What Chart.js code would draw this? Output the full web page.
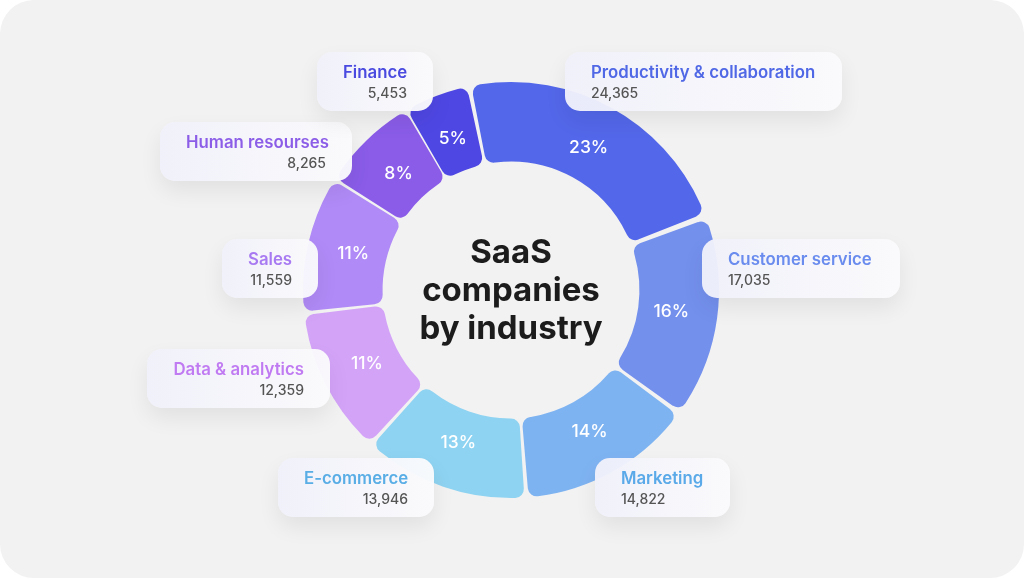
<!DOCTYPE html>
<html>
<head>
<meta charset="utf-8">
<script src="https://cdn.jsdelivr.net/npm/chart.js@4.4.1/dist/chart.umd.min.js"></script>
<style>
    html, body{margin:0;padding:0;background:#ffffff;}
    body{width:1024px;height:578px;overflow:hidden;font-family:Inter, "Noto Sans", sans-serif;}
    #tarjeta{position:absolute;left:0;top:0;width:1024px;height:578px;background:#f2f2f2;border-radius:34px;}
    #contenedor{position:absolute;left:0;top:0;width:1024px;height:578px;}
    #titulo{position:absolute;left:381px;top:232px;width:260px;text-align:center;font-weight:700;font-size:33px;line-height:38px;color:#1c1c1c;}
    .caja{position:absolute;height:59px;box-sizing:border-box;padding:0 26px;border-radius:15px;
        background:linear-gradient(90deg, rgba(240,240,250,0.96), rgba(250,250,252,0.96));
        box-shadow:0 10px 22px rgba(0,0,0,0.07);}
    .caja .nombre{font-size:16.8px;font-weight:600;margin-top:10px;line-height:21px;white-space:nowrap;}
    .caja .valor{font-size:14px;font-weight:500;color:#555555;margin-top:1px;line-height:18px;}
    .der{text-align:right;}
</style>
</head>
<body>
<div id="tarjeta"></div>
<div id="contenedor"><canvas id="g_saas"></canvas></div>
<div id="titulo">SaaS<br>companies<br>by industry</div>
<div id="etiquetas"></div>
<script>
// datos
const industrias = ["Productivity & collaboration","Customer service","Marketing","E-commerce","Data & analytics","Sales","Human resourses","Finance"];
const empresas = [24365,17035,14822,13946,12359,11559,8265,5453];
const colores = ["#5367ea","#7390ed","#7eb3f1","#8ed3f1","#d3a3f8","#b08af6","#8a5ce8","#4f47e3"];
const colores_texto = ["#5068e6","#6a8cee","#5aa9e8","#5aaee6","#c07af2","#a87af2","#8c5ee8","#4a4ae0"];

// posicion de las cajas (x, y, ancho, alineado a la derecha)
const cajas = [
    [565,52,277,false],
    [702,239,198,false],
    [595,458,135,false],
    [278,458,156,true],
    [147,349,183,true],
    [222,239,96,true],
    [160,122,192,true],
    [317,52,116,true]
];

function peso(n){
    return n.toLocaleString("en-US");
}

let total = empresas.reduce((a,b)=>a+b,0);

let etiquetas = document.getElementById("etiquetas");
for(let i = 0; i < industrias.length; i++){
    let c = cajas[i];
    let d = document.createElement("div");
    d.className = "caja" + (c[3] ? " der" : "");
    d.style.left = c[0] + "px";
    d.style.top = c[1] + "px";
    d.style.width = c[2] + "px";
    d.innerHTML = '<div class="nombre" style="color:' + colores_texto[i] + '">' + industrias[i].replace("&","&amp;") + '</div>'
        + '<div class="valor">' + peso(empresas[i]) + '</div>';
    etiquetas.appendChild(d);
}

// porcentajes blancos dentro de cada arco
const porcentajes = {
    id: "porcentajes",
    afterDatasetsDraw(chart){
        let ctx = chart.ctx;
        let meta = chart.getDatasetMeta(0);
        ctx.save();
        ctx.fillStyle = "#ffffff";
        ctx.font = "500 17.5px Inter";
        ctx.textAlign = "center";
        ctx.textBaseline = "middle";
        meta.data.forEach(function(arco, i){
            let p = arco.getProps(["x","y","startAngle","endAngle","innerRadius","outerRadius"]);
            let a = (p.startAngle + p.endAngle) / 2;
            let r = p.innerRadius + (p.outerRadius - p.innerRadius) * 0.47;
            ctx.fillText(Math.round(empresas[i] / total * 100) + "%", p.x + Math.cos(a) * r, p.y + Math.sin(a) * r);
        });
        ctx.restore();
    }
};

let ctx = document.getElementById("g_saas").getContext("2d");
let g_saas = new Chart(ctx, {
    type: "doughnut",
    data: {
        labels: industrias,
        datasets: [
            {
                data: empresas,
                backgroundColor: colores,
                borderWidth: 0,
                borderRadius: 9,
                spacing: 8
            }
        ]
    },
    options: {
        responsive: true,
        maintainAspectRatio: false,
        animation: false,
        rotation: -12,
        cutout: "61%",
        plugins: {
            legend: {display: false},
            tooltip: {enabled: false}
        },
        layout: {
            padding: {left: 303, top: 82, right: 305, bottom: 80}
        }
    },
    plugins: [porcentajes]
});
</script>
</body>
</html>
